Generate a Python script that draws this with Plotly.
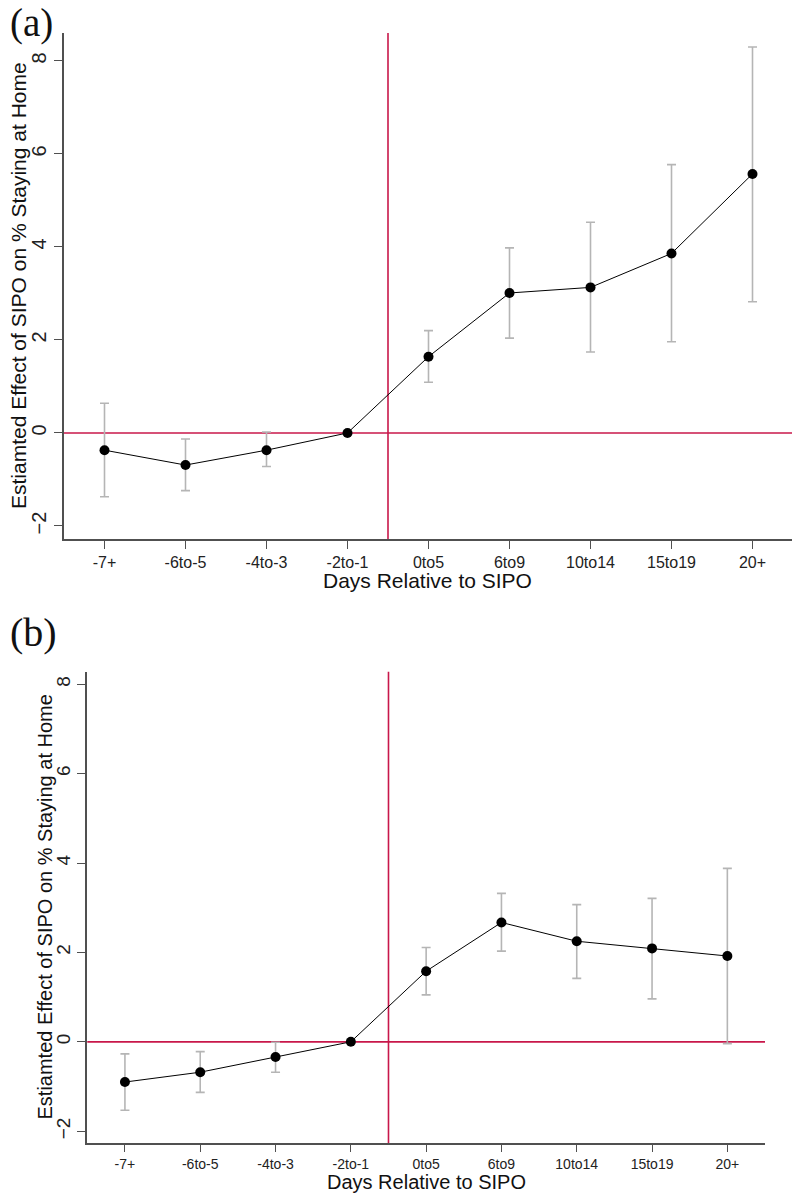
import plotly.graph_objects as go
from plotly.subplots import make_subplots

categories = ['-7+', '-6to-5', '-4to-3', '-2to-1', '0to5', '6to9', '10to14', '15to19', '20+']

# panel (a)
est_a = [-0.37, -0.69, -0.37, 0.0, 1.64, 3.01, 3.13, 3.86, 5.57]
upper_a = [0.64, -0.13, 0.02, None, 2.20, 3.98, 4.53, 5.77, 8.30]
lower_a = [-1.37, -1.24, -0.72, None, 1.09, 2.04, 1.74, 1.96, 2.82]

# panel (b)
est_b = [-0.90, -0.68, -0.34, 0.0, 1.58, 2.67, 2.25, 2.09, 1.92]
upper_b = [-0.27, -0.22, -0.01, None, 2.11, 3.32, 3.07, 3.21, 3.88]
lower_b = [-1.53, -1.13, -0.68, None, 1.05, 2.03, 1.42, 0.96, -0.04]

y_ticks = [-2, 0, 2, 4, 6, 8]

RED = '#c8174a'
AXIS = '#505050'
FONT = 'Arial'


def err(est, bound, up=True):
    out = []
    for e, b in zip(est, bound):
        if b is None:
            out.append(None)
        else:
            out.append(b - e if up else e - b)
    return out


fig = make_subplots(rows=2, cols=1)

for row, est, up, lo in [(1, est_a, upper_a, lower_a), (2, est_b, upper_b, lower_b)]:
    fig.add_trace(go.Scatter(
        x=categories, y=est, mode='lines+markers',
        line=dict(color='black', width=1),
        marker=dict(color='black', size=10),
        error_y=dict(type='data', symmetric=False,
                     array=err(est, up, True), arrayminus=err(est, lo, False),
                     color='#b5b5b5', thickness=1.6, width=4.5),
        showlegend=False), row=row, col=1)
    fig.add_hline(y=0, line=dict(color=RED, width=1.6), row=row, col=1, layer='below')
    fig.add_vline(x=3.5, line=dict(color=RED, width=1.6), row=row, col=1, layer='below')

axis_common = dict(showline=True, linecolor=AXIS, linewidth=1.6, ticks='outside',
                   tickcolor=AXIS, tickwidth=1.3, showgrid=False,
                   zeroline=False, automargin=False, mirror=False)

# page body has an 8px margin, so positions below are shifted by 8px
fig.update_layout(
    template='none',
    width=800, height=1200,
    margin=dict(l=0, r=0, t=0, b=0),
    paper_bgcolor='white', plot_bgcolor='white',
    xaxis=dict(domain=[0.07, 0.98125], range=[-0.5, 8.5], ticklen=8,
               tickfont=dict(family=FONT, size=16, color='#222'), **axis_common),
    yaxis=dict(domain=[0.5575, 0.97917], range=[-2.28, 8.6], tickvals=y_ticks, ticklen=8,
               tickangle=-90, tickfont=dict(family=FONT, size=20, color='#222'), **axis_common),
    xaxis2=dict(domain=[0.0991, 0.94625], range=[-0.5, 8.5], ticklen=7,
                tickfont=dict(family=FONT, size=14, color='#222'), **axis_common),
    yaxis2=dict(domain=[0.05392, 0.44692], range=[-2.27, 8.28], tickvals=y_ticks, ticklen=8,
                tickangle=-90, tickfont=dict(family=FONT, size=19, color='#222'), **axis_common),
)

ytitle = 'Estiamted Effect of SIPO on % Staying at Home'
xtitle = 'Days Relative to SIPO'


def note(text, px, py, size, family=FONT, angle=0, xanchor='center'):
    fig.add_annotation(text=text, x=px / 800, y=1 - py / 1200, xref='paper', yref='paper',
                       textangle=angle, showarrow=False, xanchor=xanchor, yanchor='middle',
                       font=dict(family=family, size=size, color='#111'))


note('(a)', 0, 15, 39, family='Liberation Serif', xanchor='left')
note('(b)', 0, 624, 40, family='Liberation Serif', xanchor='left')
note(ytitle, 10, 278, 21, angle=-90)
note(ytitle, 36.5, 899, 20, angle=-90)
note(xtitle, 419.5, 572, 21)
note(xtitle, 418, 1174, 20)

fig.write_html("out.html")
